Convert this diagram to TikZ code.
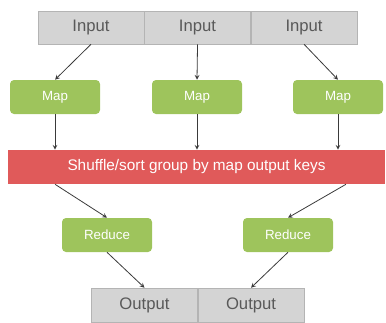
\documentclass[tikz,border=0pt]{standalone}
\usepackage{fontspec}
\setmainfont{Liberation Sans}
\usetikzlibrary{positioning}
\definecolor{cellgray}{HTML}{D4D4D4}
\definecolor{cellline}{HTML}{B4B4B4}
\definecolor{taskgreen}{HTML}{9EC45C}
\definecolor{shufred}{HTML}{E05A5A}
\definecolor{arrowgray}{HTML}{3A3A3A}
\begin{document}
\begin{tikzpicture}
		[x=0.75pt, y=-0.75pt, >=stealth,
		 cell/.style={draw=cellline, fill=cellgray, text=black!65, minimum width=79.5pt, minimum height=24.75pt, inner sep=0pt, font=\fontsize{12.5}{15}\selectfont},
		 task/.style={fill=taskgreen, rounded corners=3pt, text=white, minimum width=67.5pt, minimum height=25.5pt, inner sep=0pt, font=\fontsize{10}{12}\selectfont},
		 flow/.style={->, draw=arrowgray, line width=0.6pt}]
		\useasboundingbox (0,0) rectangle (386,322);
		\node[cell] (in1) at (91,27.5) {Input};
		\node[cell, right=0pt of in1] (in2) {Input};
		\node[cell, right=0pt of in2] (in3) {Input};
		\node[task] (map1) at (55,97) {Map};
		\node[task] (map2) at (197,97) {Map};
		\node[task] (map3) at (338,97) {Map};
		\node[fill=shufred, text=white, minimum width=282.75pt, minimum height=25.5pt, inner sep=0pt, font=\fontsize{11.5}{13}\selectfont] (shuf) at (196.5,167) {Shuffle/sort group by map output keys};
		\node[task] (red1) at (107,235) {Reduce};
		\node[task] (red2) at (288,235) {Reduce};
		\node[cell, minimum height=25.5pt] (out1) at (144.5,305) {Output};
		\node[cell, minimum height=25.5pt, right=0pt of out1] (out2) {Output};
		
		\draw[flow] (in1.south) -- (map1.north);
		\draw[flow] (in2.south) -- (map2.north);
		\draw[flow] (in3.south) -- (map3.north);
		\draw[flow] (map1.south) -- (map1.south |- shuf.north);
		\draw[flow] (map2.south) -- (map2.south |- shuf.north);
		\draw[flow] (map3.south) -- (map3.south |- shuf.north);
		\draw[flow] (map1.south |- shuf.south) -- (red1.north);
		\draw[flow] ([xshift=6pt]map3.south |- shuf.south) -- (red2.north);
		\draw[flow] (red1.south) -- (out1.north);
		\draw[flow] (red2.south) -- (out2.north);
\end{tikzpicture}
\end{document}
